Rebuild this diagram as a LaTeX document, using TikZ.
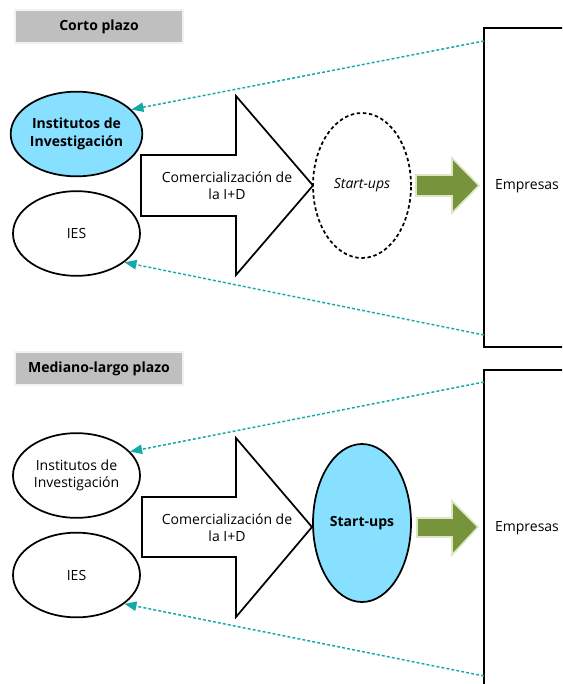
\documentclass[tikz,border=0pt]{standalone}
\usepackage{fontspec}
\setmainfont{Open Sans}
\usetikzlibrary{shapes.geometric,arrows.meta}
\definecolor{lblue}{HTML}{87E0FF}
\definecolor{olivegr}{HTML}{77933C}
\definecolor{oliveedge}{HTML}{DCE8C4}
\definecolor{tealc}{HTML}{12A9A9}
\definecolor{gbox}{HTML}{BFBFBF}
\definecolor{gedge}{HTML}{F2F2F2}
\begin{document}
\begin{tikzpicture}[x=0.75pt,y=-0.75pt,
  every node/.style={font=\fontsize{10.5}{13}\selectfont},
  oval/.style={ellipse,draw=black,line width=1.3pt,minimum width=95.25pt,minimum height=63.5pt,align=center,inner sep=0pt},
  labelbox/.style={fill=gbox,draw=gedge,line width=2.2pt,minimum width=126pt,minimum height=24.75pt,inner sep=0pt,font=\fontsize{10.5}{13}\selectfont\bfseries},
  bigarrow/.style={draw=black,fill=white,line width=1.3pt,line join=miter},
  greenarrow/.style={fill=olivegr,draw=oliveedge,line width=1.2pt},
  feedback/.style={draw=tealc,line width=1.1pt,dash pattern=on 2.2pt off 1.6pt,-{Triangle[length=9pt,width=7pt,fill=tealc]}},
  frame/.style={draw=black,line width=1.4pt}]
\useasboundingbox (0,0) rectangle (562,684);
\begin{scope}
\clip (0,0) rectangle (562,684);
\draw[frame] (484,28) rectangle (600,347);
\draw[frame] (484,370) rectangle (600,720);
\end{scope}

% ---------- Corto plazo ----------
\node[labelbox] (lbl1) at (99,26.5) {Corto plazo};
\node[oval,fill=lblue,font=\fontsize{10.5}{13}\selectfont\bfseries] (inst1) at (76.5,134) {Institutos de\\Investigación};
\node[oval] (ies1) at (76.5,233.5) {IES};
\draw[bigarrow] (141,155) -- (236,155) -- (236,96) -- (313,185.5) -- (236,275) -- (236,216) -- (141,216) -- cycle;
\node[align=center] (com1) at (227,186) {Comercialización de\\la I+D};
\node[ellipse,draw=black,line width=1.3pt,dash pattern=on 2.6pt off 2pt,minimum width=73.5pt,minimum height=108.75pt,inner sep=0pt,font=\fontsize{10.5}{13}\selectfont\itshape] (su1) at (362,185.5) {Start-ups};
\draw[greenarrow] (416,175) -- (452,175) -- (452,158) -- (479,185.5) -- (452,213) -- (452,196) -- (416,196) -- cycle;
\node (emp1) at (527,186) {Empresas};
\coordinate (f1a) at (484,41);
\coordinate (f1b) at (484,335);
\draw[feedback] (f1a) -- (inst1.24);
\draw[feedback] (f1b) -- (ies1.-31);

% ---------- Mediano-largo plazo ----------
\node[labelbox] (lbl2) at (99,368.5) {Mediano-largo plazo};
\node[oval] (inst2) at (76.5,475.5) {Institutos de\\Investigación};
\node[oval] (ies2) at (76.5,575) {IES};
\draw[bigarrow] (142,497) -- (236,497) -- (236,438) -- (312,527) -- (236,617) -- (236,557) -- (142,557) -- cycle;
\node[align=center] (com2) at (227,528) {Comercialización de\\la I+D};
\node[ellipse,draw=black,line width=1.3pt,fill=lblue,minimum width=73.5pt,minimum height=118.5pt,inner sep=0pt,font=\fontsize{10.5}{13}\selectfont\bfseries] (su2) at (362,523) {Start-ups};
\draw[greenarrow] (417,518) -- (452,518) -- (452,501) -- (478,527) -- (452,555) -- (452,537) -- (417,537) -- cycle;
\node (emp2) at (527,528) {Empresas};
\coordinate (f2a) at (484,382);
\coordinate (f2b) at (484,676);
\draw[feedback] (f2a) -- (inst2.24);
\draw[feedback] (f2b) -- (ies2.-31);
\end{tikzpicture}
\end{document}
